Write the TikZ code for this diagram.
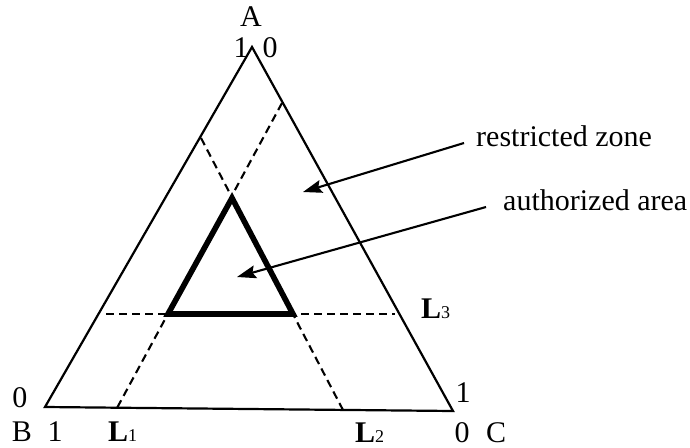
\documentclass[tikz,border=0pt]{standalone}
\usepackage{fontspec}
\setmainfont{Liberation Serif}
\usetikzlibrary{arrows.meta}
\tikzset{
  lbl/.style={inner sep=0pt, anchor=base, font=\fontsize{30}{36}\selectfont},
  side/.style={line width=2.2pt, line join=miter},
  guide/.style={line width=2.1pt, dash pattern=on 8pt off 5pt},
  zone/.style={line width=5.6pt, line join=miter},
  pointer/.style={line width=2.1pt, -{Stealth[length=19pt, width=13pt, inset=3pt]}},
}
\newcommand{\Lsub}[1]{{\bfseries L}{\fontsize{18}{18}\selectfont #1}}
\begin{document}
\begin{tikzpicture}[x=1pt, y=-1pt]
\useasboundingbox (0,0) rectangle (690,447);
% main triangle
\coordinate (A) at (252,47);
\coordinate (B) at (45,407);
\coordinate (C) at (453,411);
\draw[side] (A) -- (B) -- (C) -- cycle;
% dashed guide lines
\coordinate (L1t) at (282,103);
\coordinate (L1b) at (117,408);
\coordinate (L2t) at (201,138);
\coordinate (L2b) at (343,410);
\coordinate (L3l) at (106,314);
\coordinate (L3r) at (395,314);
\draw[guide] (L1t) -- (L1b);
\draw[guide] (L2t) -- (L2b);
\draw[guide] (L3l) -- (L3r);
% authorized area
\coordinate (P) at (232,198);
\coordinate (Q) at (168,314);
\coordinate (R) at (293,314);
\draw[zone] (P) -- (Q) -- (R) -- cycle;
% labels
\node[lbl] (tA) at (251,26) {A};
\node[lbl] (tA1) at (241,57) {1};
\node[lbl] (tA0) at (270,57) {0};
\node[lbl] (tB0) at (20,407) {0};
\node[lbl] (tB) at (22,441) {B};
\node[lbl] (tB1) at (55,441) {1};
\node[lbl] (tC1) at (463,402) {1};
\node[lbl] (tC0) at (462,442) {0};
\node[lbl] (tC) at (496,442) {C};
\node[lbl, anchor=base west] (tL1) at (108,441) {\Lsub{1}};
\node[lbl, anchor=base west] (tL2) at (355,442) {\Lsub{2}};
\node[lbl, anchor=base west] (tL3) at (421,318) {\Lsub{3}};
% annotations
\node[lbl, anchor=base west] (rz) at (476,146) {restricted zone};
\node[lbl, anchor=base west] (aa) at (503,210) {authorized area};
\coordinate (rzs) at (464,143);
\coordinate (rzt) at (303,192);
\coordinate (aas) at (486,207);
\coordinate (aat) at (237,277);
\draw[pointer] (rzs) -- (rzt);
\draw[pointer] (aas) -- (aat);
\end{tikzpicture}
\end{document}
